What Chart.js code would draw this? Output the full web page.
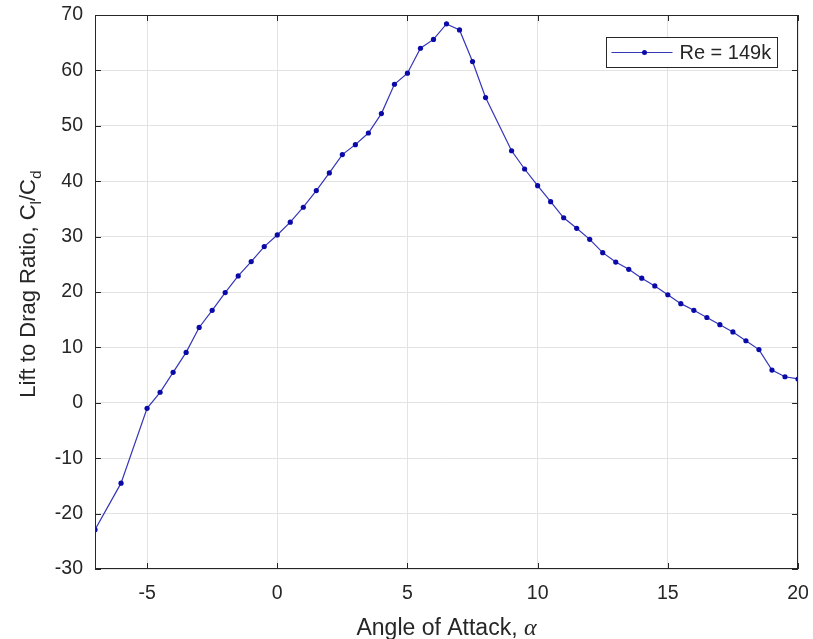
<!DOCTYPE html>
<html>
<head>
<meta charset="utf-8">
<script src="https://cdn.jsdelivr.net/npm/chart.js@4"></script>
<style>
    body { margin: 0; background: #ffffff; }
    canvas { display: block; }
</style>
</head>
<body>
<canvas id="ldChart" width="813" height="639"></canvas>
<script>
// Угол атаки, градусы
const alpha = [-7, -6, -5, -4.5, -4, -3.5, -3, -2.5, -2, -1.5, -1, -0.5, 0, 0.5, 1, 1.5, 2, 2.5, 3, 3.5,
    4, 4.5, 5, 5.5, 6, 6.5, 7, 7.5, 8, 9, 9.5, 10, 10.5, 11, 11.5, 12, 12.5, 13, 13.5, 14,
    14.5, 15, 15.5, 16, 16.5, 17, 17.5, 18, 18.5, 19, 19.5, 20];

// Отношение подъёмной силы к сопротивлению, Cl/Cd
const liftToDrag = [-22.9, -14.5, -1.0, 1.9, 5.5, 9.1, 13.6, 16.7, 19.9, 22.9, 25.5, 28.2, 30.3, 32.6, 35.3, 38.3,
    41.5, 44.8, 46.6, 48.7, 52.2, 57.5, 59.5, 64.0, 65.6, 68.4, 67.3, 61.6, 55.1, 45.5, 42.2, 39.2,
    36.3, 33.4, 31.5, 29.5, 27.1, 25.4, 24.1, 22.5, 21.1, 19.5, 17.9, 16.7, 15.4, 14.1, 12.8, 11.2,
    9.6, 5.9, 4.7, 4.3];

const seriesLabel = 'Re = 149k';
const xTicks = [-5, 0, 5, 10, 15, 20];
const yTicks = [-30, -20, -10, 0, 10, 20, 30, 40, 50, 60, 70];

const axisColor = '#262626';
const fontFamily = '"Liberation Sans", Arial, Helvetica, sans-serif';

// Рамка осей с внутренними засечками, подписи осей и легенда (как в MATLAB)
const matlabFrame = {
    id: 'matlabFrame',
    afterDraw(chart) {
        const ctx = chart.ctx;
        const area = chart.chartArea;
        const xs = chart.scales.x;
        const ys = chart.scales.y;
        const tickLen = 6;

        ctx.save();
        ctx.strokeStyle = axisColor;
        ctx.lineWidth = 1;
        ctx.strokeRect(Math.round(area.left) + 0.5, Math.round(area.top) + 0.5,
            Math.round(area.right - area.left) - 1, Math.round(area.bottom - area.top) - 1);

        ctx.beginPath();
        xTicks.forEach(v => {
            const px = Math.round(xs.getPixelForValue(v)) + 0.5;
            ctx.moveTo(px, area.bottom);
            ctx.lineTo(px, area.bottom - tickLen);
            ctx.moveTo(px, area.top);
            ctx.lineTo(px, area.top + tickLen);
        });
        yTicks.forEach(v => {
            const py = Math.round(ys.getPixelForValue(v)) + 0.5;
            ctx.moveTo(area.left, py);
            ctx.lineTo(area.left + tickLen, py);
            ctx.moveTo(area.right, py);
            ctx.lineTo(area.right - tickLen, py);
        });
        ctx.stroke();

        // Подпись оси X
        ctx.fillStyle = axisColor;
        ctx.textBaseline = 'alphabetic';
        ctx.textAlign = 'left';
        const xFont = '23px ' + fontFamily;
        const greekFont = 'italic 24px "Liberation Serif", "DejaVu Serif", serif';
        const xText = 'Angle of Attack, ';
        ctx.font = xFont;
        const w1 = ctx.measureText(xText).width;
        ctx.font = greekFont;
        const w2 = ctx.measureText('\u03B1').width;
        let sx = (area.left + area.right) / 2 - (w1 + w2) / 2;
        const baseY = area.bottom + 66;
        ctx.font = xFont;
        ctx.fillText(xText, sx, baseY);
        ctx.font = greekFont;
        ctx.fillText('\u03B1', sx + w1, baseY);

        // Подпись оси Y с нижними индексами
        const yFont = '22px ' + fontFamily;
        const subFont = '15.5px ' + fontFamily;
        const parts = [
            { t: 'Lift to Drag Ratio, C', sub: false },
            { t: 'l', sub: true },
            { t: '/C', sub: false },
            { t: 'd', sub: true }
        ];
        let total = 0;
        parts.forEach(p => {
            ctx.font = p.sub ? subFont : yFont;
            p.w = ctx.measureText(p.t).width;
            total += p.w;
        });
        ctx.translate(35, (area.top + area.bottom) / 2 - 8);
        ctx.rotate(-Math.PI / 2);
        let cx = -total / 2;
        parts.forEach(p => {
            ctx.font = p.sub ? subFont : yFont;
            ctx.fillText(p.t, cx, p.sub ? 6 : 0);
            cx += p.w;
        });
        ctx.setTransform(1, 0, 0, 1, 0, 0);

        // Легенда
        const ds = chart.data.datasets[0];
        const boxW = 171;
        const boxH = 30;
        const bx = Math.round(area.right - 192) + 0.5;
        const by = Math.round(area.top + 22) + 0.5;
        ctx.fillStyle = '#ffffff';
        ctx.fillRect(bx, by, boxW, boxH);
        ctx.strokeStyle = axisColor;
        ctx.strokeRect(bx, by, boxW, boxH);

        const ly = by + boxH / 2;
        ctx.strokeStyle = ds.borderColor;
        ctx.lineWidth = 1;
        ctx.beginPath();
        ctx.moveTo(bx + 5, ly);
        ctx.lineTo(bx + 66, ly);
        ctx.stroke();
        ctx.fillStyle = ds.pointBackgroundColor;
        ctx.beginPath();
        ctx.arc(bx + 38, ly, 2.5, 0, Math.PI * 2);
        ctx.fill();

        ctx.fillStyle = axisColor;
        ctx.font = '20px ' + fontFamily;
        ctx.textBaseline = 'middle';
        ctx.fillText(ds.label, bx + 73, ly + 1);
        ctx.restore();
    }
};

function generateChart() {
    const ctx = document.getElementById('ldChart').getContext('2d');
    const points = alpha.map((a, i) => ({ x: a, y: liftToDrag[i] }));

    new Chart(ctx, {
        type: 'line',
        data: {
            datasets: [{
                label: seriesLabel,
                data: points,
                borderColor: '#3535b8',
                borderWidth: 1.2,
                pointBackgroundColor: '#0a0aa8',
                pointBorderWidth: 0,
                pointRadius: 2.6,
                tension: 0
            }]
        },
        options: {
            responsive: false,
            animation: false,
            layout: {
                padding: { top: 15, right: 15, left: 0, bottom: 0 }
            },
            scales: {
                x: {
                    type: 'linear',
                    min: -7,
                    max: 20,
                    afterBuildTicks: scale => { scale.ticks = xTicks.map(v => ({ value: v })); },
                    afterFit: scale => {
                        scale.height = 70;
                        scale.paddingLeft = 0;
                        scale.paddingRight = 0;
                    },
                    grid: { color: '#e3e3e3', drawTicks: false },
                    border: { display: false },
                    ticks: {
                        color: axisColor,
                        padding: 13,
                        maxRotation: 0,
                        font: { family: fontFamily, size: 19.5 }
                    }
                },
                y: {
                    type: 'linear',
                    min: -30,
                    max: 70,
                    afterBuildTicks: scale => { scale.ticks = yTicks.map(v => ({ value: v })); },
                    afterFit: scale => {
                        scale.width = 95;
                        scale.paddingTop = 0;
                        scale.paddingBottom = 0;
                    },
                    grid: { color: '#e3e3e3', drawTicks: false },
                    border: { display: false },
                    ticks: {
                        color: axisColor,
                        padding: 12,
                        font: { family: fontFamily, size: 19.5 }
                    }
                }
            },
            plugins: {
                legend: { display: false },
                tooltip: { enabled: false }
            }
        },
        plugins: [matlabFrame]
    });
}

generateChart();
</script>
</body>
</html>
